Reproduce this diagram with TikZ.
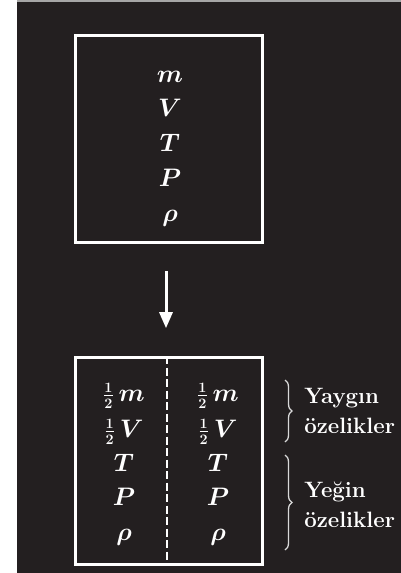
\documentclass[tikz,border=0pt]{standalone}
\usepackage{amsmath}
\usetikzlibrary{arrows.meta,decorations.pathreplacing}
\definecolor{bgdark}{HTML}{231F20}
\newcommand{\halfof}{\scalebox{0.82}{$\tfrac{1}{2}$}}
\begin{document}
\begin{tikzpicture}[x=1pt,y=-1pt,
        every node/.style={text=white,inner sep=0pt},
        box/.style={draw=white,line width=3pt,minimum width=187pt,minimum height=207pt},
        qty/.style={anchor=base,font=\fontsize{20}{24}\selectfont\boldmath,scale=1.22,transform shape},
        lbl/.style={anchor=west,align=left,font=\fontsize{17.5}{24}\selectfont\bfseries,scale=1.27,transform shape},
        brc/.style={draw=white!85!black,line width=1.3pt,decorate,decoration={brace,amplitude=7pt}}]
        % background
        \fill[white] (0,0) rectangle (401,573);
        \fill[gray!70] (17,0) rectangle (401,2);
        \fill[bgdark] (17,2) rectangle (401,573);
        % whole system
        \node[box] (top) at (168.5,139.35) {};
        \node[qty] (m) at (170,82) {$m$};
        \node[qty] (v) at (170,116) {$V$};
        \node[qty] (t) at (170,151) {$T$};
        \node[qty] (p) at (170,186) {$P$};
        \node[qty] (r) at (170,221) {$\rho$};
        % split system
        \node[box] (bot) at (168.5,461.2) {};
        \draw[white,line width=1.5pt,dash pattern=on 8pt off 3.5pt]
            ([xshift=-1.5pt]bot.north) -- ([xshift=-1.5pt]bot.south);
        \node[qty] (lm) at (124,401) {$\halfof\,m$};
        \node[qty] (lv) at (124,437) {$\halfof\,V$};
        \node[qty] (lt) at (124,471) {$T$};
        \node[qty] (lp) at (124,505) {$P$};
        \node[qty] (lr) at (124,540) {$\rho$};
        \node[qty] (rm) at (218,401) {$\halfof\,m$};
        \node[qty] (rv) at (218,437) {$\halfof\,V$};
        \node[qty] (rt) at (218,471) {$T$};
        \node[qty] (rp) at (218,505) {$P$};
        \node[qty] (rr) at (218,540) {$\rho$};
        % arrow
        \draw[white,line width=3pt,-{Triangle[width=13pt,length=16pt]},
            shorten <=27pt,shorten >=28pt]
            ([xshift=-2.5pt]top.south) -- ([xshift=-2.5pt]bot.north);
        % braces
        \coordinate (b1) at (285,380);
        \coordinate (b2) at (285,442);
        \coordinate (b3) at (285,455);
        \coordinate (b4) at (285,550);
        \draw[brc] (b1) -- (b2);
        \draw[brc] (b3) -- (b4);
        \node[lbl] (yay) at (304,411) {Yayg\i n\\\"ozelikler};
        \node[lbl] (yeg) at (304,505) {Ye\u{g}in\\\"ozelikler};
\end{tikzpicture}
\end{document}
